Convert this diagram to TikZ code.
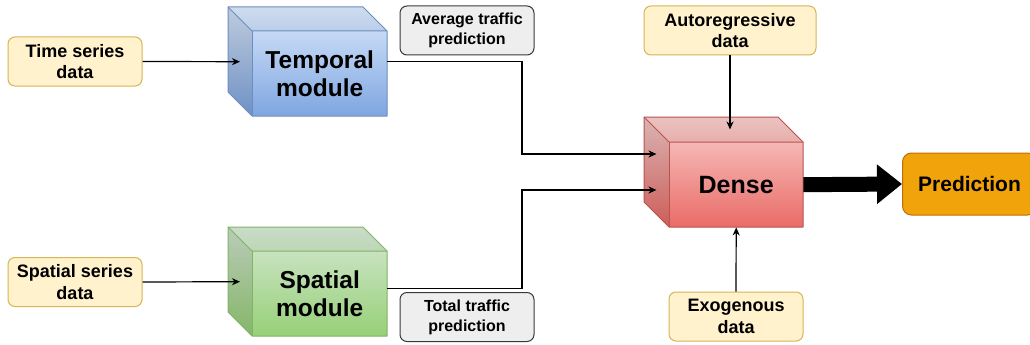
\documentclass[tikz,border=0pt]{standalone}
\usepackage{fontspec}
\setmainfont{Liberation Sans}
\usetikzlibrary{arrows.meta,calc}
\definecolor{blueTop}{HTML}{DAE8FC}
\definecolor{blueBot}{HTML}{7EA6E0}
\definecolor{blueLine}{HTML}{6C8EBF}
\definecolor{greenTop}{HTML}{D5E8D4}
\definecolor{greenBot}{HTML}{97D077}
\definecolor{greenLine}{HTML}{82B366}
\definecolor{redTop}{HTML}{F8CECC}
\definecolor{redBot}{HTML}{EA6B66}
\definecolor{redLine}{HTML}{B85450}
\definecolor{yelFill}{HTML}{FFF2CC}
\definecolor{yelLine}{HTML}{D6B656}
\definecolor{greyFill}{HTML}{EEEEEE}
\definecolor{greyLine}{HTML}{36393D}
\definecolor{orFill}{HTML}{F0A30A}
\definecolor{orLine}{HTML}{BD7000}
\newcommand{\drawcube}[8]{%
  \shade[top color=#7Top, bottom color=#7Bot] (#2,#3) -- ({#2+#4-#6},#3) -- ({#2+#4},{#3+#6}) -- ({#2+#4},{#3+#5}) -- ({#2+#6},{#3+#5}) -- (#2,{#3+#5-#6}) -- cycle;
  \fill[black,opacity=0.12] (#2,#3) -- ({#2+#6},{#3+#6}) -- ({#2+#6},{#3+#5}) -- (#2,{#3+#5-#6}) -- cycle;
  \fill[black,opacity=0.05] (#2,#3) -- ({#2+#4-#6},#3) -- ({#2+#4},{#3+#6}) -- ({#2+#6},{#3+#6}) -- cycle;
  \draw[#7Line, line width=1pt, line join=round] (#2,#3) -- ({#2+#4-#6},#3) -- ({#2+#4},{#3+#6}) -- ({#2+#4},{#3+#5}) -- ({#2+#6},{#3+#5}) -- (#2,{#3+#5-#6}) -- cycle;
  \draw[#7Line, line width=1pt, line join=round] (#2,#3) -- ({#2+#6},{#3+#6}) -- ({#2+#4},{#3+#6});
  \draw[#7Line, line width=1pt] ({#2+#6},{#3+#6}) -- ({#2+#6},{#3+#5});
  \node[cubetext, minimum width={#4-#6}, minimum height={#5-#6}, anchor=north west] (#1) at ({#2+#6},{#3+#6}) {#8};
}
\tikzset{
  cubetext/.style={inner sep=0pt, align=center, font=\fontsize{24.5}{28}\selectfont\bfseries},
  yelbox/.style={draw=yelLine, fill=yelFill, line width=1pt, rounded corners=7pt, minimum width=134pt, minimum height=49pt, inner sep=0pt, align=center, font=\fontsize{18}{21.5}\selectfont\bfseries},
  greybox/.style={draw=greyLine, fill=greyFill, line width=1pt, rounded corners=7pt, minimum width=134pt, minimum height=49pt, inner sep=0pt, align=center, font=\fontsize{16}{20}\selectfont\bfseries},
  predbox/.style={draw=orLine, fill=orFill, line width=1pt, rounded corners=9pt, minimum width=134pt, minimum height=62pt, inner sep=0pt, align=center, font=\fontsize{21}{24}\selectfont\bfseries},
  arr/.style={draw=black, line width=1.2pt, -{Stealth[length=8pt,width=7pt,inset=2.5pt]}},
  bigarr/.style={draw=black, line width=15pt, -{Triangle[length=25pt,width=38pt]}}
}
\begin{document}
\begin{tikzpicture}[x=1pt,y=-1pt]
\useasboundingbox (0,0) rectangle (1030,345);
\clip (0,0) rectangle (1030,345);
\fill[white] (0,0) rectangle (1030,345);

\drawcube{temporal}{228}{7}{159}{109}{24}{blue}{Temporal\\module}
\drawcube{spatial}{228}{227}{159}{109}{24}{green}{Spatial\\module}
\drawcube{dense}{644}{117}{159}{110}{25}{red}{\fontsize{25}{28}\selectfont Dense}

\node[yelbox] (ts) at (75,61.5) {Time series\\data};
\node[yelbox] (ss) at (75,282) {Spatial series\\data};
\node[greybox] (avg) at (467,30.5) {Average traffic\\prediction};
\node[greybox] (tot) at (467,317) {Total traffic\\prediction};
\node[yelbox, minimum width=172pt] (auto) at (730,30.5) {Autoregressive\\data};
\node[yelbox] (exo) at (736,316.5) {Exogenous\\data};
\node[predbox, anchor=west] (pred) at (902,184) {Prediction};

\coordinate (tin) at ($(temporal.west)+(-12,-12)$);
\coordinate (sin) at ($(spatial.west)+(-12,-12)$);
\coordinate (tout) at ($(temporal.east)+(0,-12)$);
\coordinate (sout) at ($(spatial.east)+(0,-5)$);
\coordinate (din1) at (656.5,154);
\coordinate (din2) at (656.5,190);
\coordinate (dtop) at (730,129.5);

\draw[arr] (ts.east) -- (tin);
\draw[arr] (ss.east) -- (sin);
\draw[arr] (tout) -- ++(134.5,0) |- (din1);
\draw[arr] (sout) -- ++(134.5,0) |- (din2);
\draw[arr] (auto.south) -- (dtop);
\draw[arr] (exo.north) -- (dense.south);
\draw[bigarr] (dense.east) -- (pred.west);
\end{tikzpicture}
\end{document}
